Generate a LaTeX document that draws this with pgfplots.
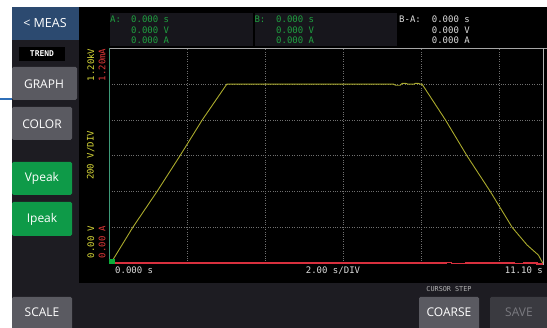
\documentclass[border=0pt]{standalone}
\usepackage{pgfplots}
\pgfplotsset{compat=1.18}
\usepackage{fontspec}
\setmainfont{Open Sans}
\newfontfamily\mono{DejaVu Sans Mono}
\definecolor{panel}{HTML}{1D1C22}
\definecolor{meas}{HTML}{2C4A70}
\definecolor{btn}{HTML}{5A5A61}
\definecolor{savebg}{HTML}{3A3A40}
\definecolor{savetx}{HTML}{7A7A80}
\definecolor{grn}{HTML}{0E9A48}
\definecolor{hdr}{HTML}{17161C}
\definecolor{rdg}{HTML}{1FA040}
\definecolor{ylab}{HTML}{D8D838}
\definecolor{rlab}{HTML}{E23A3A}
\definecolor{ytr}{HTML}{AAAA2C}
\definecolor{rtr}{HTML}{D8303E}
\definecolor{cur}{HTML}{3E9A78}
\definecolor{bluel}{HTML}{2F6FB8}
\definecolor{gridc}{HTML}{707070}
\definecolor{lbl}{HTML}{DCDCDC}
\newcommand\rd{\mono\fontsize{9}{10}\selectfont}
\begin{document}
\begin{tikzpicture}[x=1pt,y=-1pt]
\path[use as bounding box, fill=white] (0,0) rectangle (547,328);
\fill[panel] (12,7) rectangle (547,328);
\fill[black] (79,7) rectangle (547,283);
\fill[hdr] (109.5,13) rectangle (253,46);
\fill[hdr] (255,13) rectangle (397,46);
\fill[bluel] (0,98.5) rectangle (12,100.5);
% buttons
\fill[meas] (12,7) rectangle (79,40);
\fill[black] (19,47) rectangle (65,61);
\fill[btn, rounded corners=1.5pt] (12,67) rectangle (77,100);
\fill[btn, rounded corners=1.5pt] (12,107) rectangle (72,140);
\fill[grn, rounded corners=1.5pt] (12,162) rectangle (72,195);
\fill[grn, rounded corners=1.5pt] (12,202) rectangle (72,236);
\fill[btn, rounded corners=1.5pt] (12,297) rectangle (72,330);
\fill[btn, rounded corners=1.5pt] (419,297) rectangle (479,330);
\fill[savebg, rounded corners=1.5pt] (490,297) rectangle (549,330);
\node[text=white, font=\fontsize{12.5}{14}\selectfont] at (45,23.5) {< MEAS};
\node[text=white, font=\mono\bfseries\fontsize{8}{9}\selectfont] at (42,54) {TREND};
\node[text=white, font=\fontsize{12}{14}\selectfont] at (44,84) {GRAPH};
\node[text=white, font=\fontsize{12}{14}\selectfont] at (42,124) {COLOR};
\node[text=white, font=\fontsize{12}{14}\selectfont] at (42,178.5) {Vpeak};
\node[text=white, font=\fontsize{12}{14}\selectfont] at (42,219) {Ipeak};
\node[text=white, font=\fontsize{12}{14}\selectfont] at (42,312.5) {SCALE};
\node[text=white, font=\fontsize{12}{14}\selectfont] at (449,312.5) {COARSE};
\node[text=savetx, font=\fontsize{12}{14}\selectfont] at (519,312.5) {SAVE};
\node[text=lbl!80!black, font=\mono\fontsize{6.8}{8}\selectfont] at (449,289.5) {CURSOR STEP};
% header readings
\begin{scope}[every node/.style={anchor=base west, inner sep=0pt, font=\rd}]
\node[text=rdg] at (110,22.7) {A:};
\node[text=rdg] at (131,22.7) {0.000 s};
\node[text=rdg] at (131,33.3) {0.000 V};
\node[text=rdg] at (131,44) {0.000 A};
\node[text=rdg] at (254.3,22.7) {B:};
\node[text=rdg] at (276,22.7) {0.000 s};
\node[text=rdg] at (276,33.3) {0.000 V};
\node[text=rdg] at (276,44) {0.000 A};
\node[text=lbl] at (399,22.7) {B-A:};
\node[text=lbl] at (431.7,22.7) {0.000 s};
\node[text=lbl] at (431.7,33.3) {0.000 V};
\node[text=lbl] at (431.7,44) {0.000 A};
\node[text=lbl] at (115,273.3) {0.000 s};
\node[text=lbl, anchor=base] at (333,273.3) {2.00 s/DIV};
\node[text=lbl, anchor=base east] at (543,273.3) {11.10 s};
\end{scope}
% side labels
\begin{scope}[every node/.style={rotate=90, inner sep=0pt, font=\rd}]
\node[text=ylab, anchor=east] at (90.8,48.5) {1.20kV};
\node[text=rlab, anchor=east] at (102,48.5) {1.20mA};
\node[text=ylab] at (90.8,155.5) {200 V/DIV};
\node[text=ylab, anchor=west] at (90.8,258.3) {0.00 V};
\node[text=rlab, anchor=west] at (102,258.3) {0.00 A};
\end{scope}
% frame
\draw[gray!70, line width=0.9pt] (109.3,48.3) -- (547,48.3);
\draw[gray!60, line width=0.7pt] (543,48.3) -- (543,264.8);
\begin{axis}[at={(109.3pt,-263.3pt)}, anchor=south west, scale only axis,
  width=433.4pt, height=215pt, xmin=0, xmax=11.1, ymin=0, ymax=1200,
  xtick={2,4,6,8,10}, ytick={200,400,600,800,1000},
  xticklabels={}, yticklabels={}, major tick length=0pt,
  grid=major, grid style={dotted, line width=0.7pt, color=gridc},
  axis line style={draw=none}, clip=false]
\addplot[ytr, line width=0.9pt] coordinates {
(0.06,8) (0.60,200) (1.22,400) (1.81,600) (2.38,800) (3.01,1000)
(7.28,1000) (7.33,994) (7.45,994) (7.5,1004) (7.6,1004) (7.65,1000)
(7.80,1000) (7.84,1004) (7.92,1004) (7.96,1000) (8.01,1000)
(8.61,800) (9.16,600) (9.76,400) (10.32,200) (10.70,102) (10.99,46) (11.1,2)};
\end{axis}
\begin{axis}[at={(109.3pt,-263.3pt)}, anchor=south west, scale only axis,
  width=433.4pt, height=215pt, xmin=0, xmax=11.1, ymin=0, ymax=1.2,
  hide axis, clip=false]
\addplot[rtr, line width=1.4pt] coordinates {
(0,0.001) (8.63,0.001) (8.63,0.006) (8.76,0.006) (8.76,-0.002) (9.12,-0.002) (9.12,0.001)
(10.38,0.001) (10.38,-0.002) (10.62,-0.002) (10.62,0.001) (10.95,0.001) (10.95,-0.003) (11.1,-0.003)};
\addplot[cur, line width=0.9pt] coordinates {(0,0) (0,1.2)};
\addplot[only marks, mark=square*, mark size=2.2pt, color=grn!80!green] coordinates {(0.06,0.012)};
\end{axis}
\end{tikzpicture}
\end{document}
